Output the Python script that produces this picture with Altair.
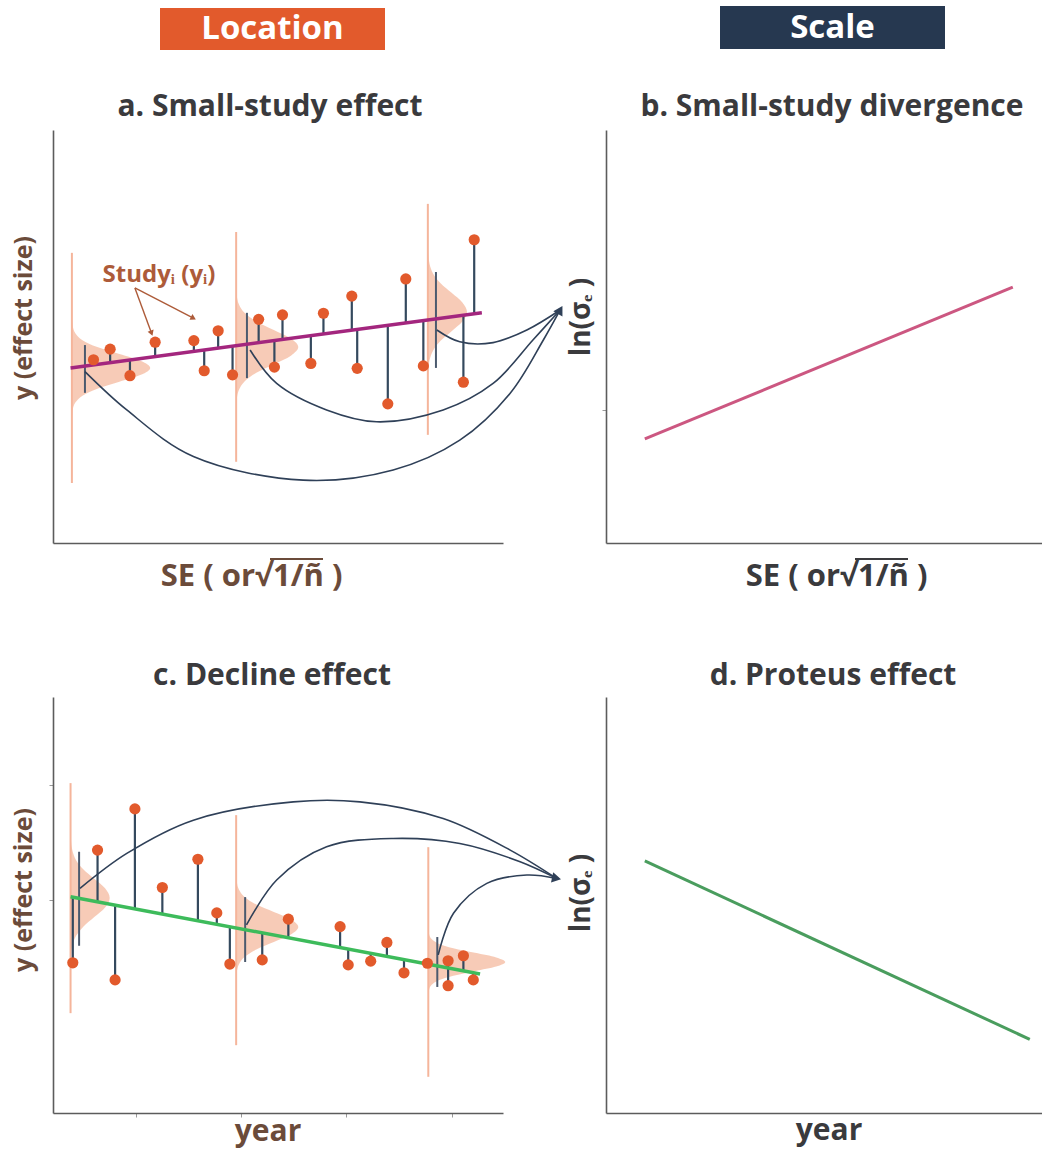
import altair as alt
import pandas as pd

# ---------------- colours / fonts ----------------
ORANGE = "#E25A2C"
NAVY = "#263850"
STEM = "#34495E"
ARC = "#2F4058"
SALMON_FILL = "#F6C2AA"
SALMON_LINE = "#F5B59B"
MAGENTA = "#A3267E"
PINK = "#CC5781"
GREEN_C = "#3DBB5B"
GREEN_D = "#4A9D5E"
BROWN = "#6B4B3A"
DARK = "#3A3A3D"
AXIS = "#5C5C5C"
LABEL_BROWN = "#AD5B39"
FONT = "Open Sans"

# ---------------- shape of the drawn bell curves ----------------
BELL_Z = [-3.5, -3, -2.5, -2, -1.5, -1, -0.5, 0, 0.5, 1, 1.5, 2, 2.5, 3, 3.5]
BELL_H = [0.002, 0.011, 0.044, 0.135, 0.325, 0.607, 0.882, 1.0, 0.882, 0.607, 0.325, 0.135, 0.044, 0.011, 0.002]

# ---------------- panel a: small-study effect ----------------
A_SE = [0.90, 1.27, 1.71, 2.27, 3.13, 3.36, 3.67, 3.99, 4.57, 4.92, 5.10, 5.73, 6.01, 6.64, 6.76, 7.44, 7.84, 8.23, 9.12, 9.36]
A_Y = [4.49, 4.75, 4.10, 4.92, 4.96, 4.22, 5.20, 4.12, 5.48, 4.31, 5.59, 4.40, 5.63, 6.05, 4.28, 3.41, 6.47, 4.34, 3.94, 7.43]
A_FIT = [4.37, 4.42, 4.49, 4.57, 4.70, 4.73, 4.78, 4.82, 4.91, 4.96, 4.99, 5.08, 5.12, 5.21, 5.23, 5.33, 5.39, 5.45, 5.58, 5.61]
A_LINE_SE = [0.39, 9.53]
A_LINE_Y = [4.29, 5.64]
A_DENS_BASE = [0.42, 4.07, 8.33]
A_DENS_CENTER = [4.29, 4.80, 5.66]
A_DENS_PEAK = [1.74, 1.38, 0.87]
A_DENS_SD = [0.34, 0.42, 0.47]
A_DENS_LO = [1.47, 1.99, 2.65]
A_DENS_HI = [7.11, 7.62, 8.31]
A_CI_X = [0.71, 4.31, 8.51]
A_CI_LO = [3.68, 4.04, 4.29]
A_CI_HI = [4.85, 5.64, 6.64]
A_ARC1_X = [0.71, 1.64, 3.12, 5.56, 7.56, 9.04, 10.16, 10.90, 11.27]
A_ARC1_Y = [4.20, 3.26, 2.12, 1.54, 1.79, 2.52, 3.67, 4.98, 5.71]
A_ARC2_X = [4.38, 4.97, 6.08, 7.19, 8.67, 9.78, 10.67, 11.27]
A_ARC2_Y = [4.73, 3.91, 3.26, 2.97, 3.26, 3.91, 4.98, 5.71]
A_ARC3_X = [8.53, 9.04, 9.78, 10.53, 11.27]
A_ARC3_Y = [5.22, 4.93, 4.91, 5.22, 5.71]
A_NOTE_FROM = [1.82, 6.25]
A_NOTE_TO_X = [2.19, 3.12]
A_NOTE_TO_Y = [5.14, 5.51]

# ---------------- panel b: small-study divergence ----------------
B_SE = [0.89, 9.33]
B_LNSIGMA = [2.55, 6.27]
B_YTICKS = [3.26]

# ---------------- panel c: decline effect ----------------
C_YEAR = [0.44, 0.99, 1.38, 1.82, 2.43, 3.22, 3.64, 3.93, 4.65, 5.23, 6.38, 6.56, 7.06, 7.42, 7.80, 8.32, 8.78, 8.78, 9.12, 9.34]
C_Y = [3.61, 6.32, 3.20, 7.31, 5.42, 6.10, 4.81, 3.58, 3.68, 4.66, 4.48, 3.56, 3.65, 4.10, 3.37, 3.60, 3.66, 3.06, 3.78, 3.20]
C_FIT = [5.19, 5.08, 5.00, 4.91, 4.78, 4.62, 4.54, 4.48, 4.33, 4.21, 3.98, 3.94, 3.84, 3.76, 3.69, 3.58, 3.49, 3.49, 3.42, 3.37]
C_LINE_YEAR = [0.39, 9.49]
C_LINE_Y = [5.20, 3.34]
C_DENS_BASE = [0.39, 4.07, 8.34]
C_DENS_CENTER = [5.17, 4.47, 3.63]
C_DENS_PEAK = [0.87, 1.38, 1.71]
C_DENS_SD = [0.46, 0.36, 0.22]
C_DENS_LO = [2.40, 1.63, 0.87]
C_DENS_HI = [7.93, 7.16, 6.39]
C_CI_X = [0.58, 4.27, 8.54]
C_CI_LO = [4.02, 3.63, 3.03]
C_CI_HI = [6.28, 5.19, 4.23]
C_ARC1_X = [0.60, 1.64, 3.12, 5.34, 6.82, 8.67, 10.16, 11.19]
C_ARC1_Y = [5.40, 6.24, 7.04, 7.48, 7.48, 7.08, 6.32, 5.64]
C_ARC2_X = [4.30, 4.97, 6.08, 7.56, 9.04, 10.38, 11.19]
C_ARC2_Y = [4.52, 5.60, 6.40, 6.60, 6.48, 6.04, 5.64]
C_ARC3_X = [8.56, 8.90, 9.64, 10.53, 11.19]
C_ARC3_Y = [3.80, 4.80, 5.52, 5.72, 5.64]
C_XTICKS = [1.84, 4.18, 6.51, 8.86]
C_YTICKS = [5.12, 7.88]

# ---------------- panel d: Proteus effect ----------------
D_YEAR = [0.89, 9.72]
D_LNSIGMA = [6.06, 1.77]

ONE = pd.DataFrame({"k": [0]})


def dens_df(base, center, peak, sd):
    rows = []
    for k in range(len(base)):
        for z, h in zip(BELL_Z, BELL_H):
            rows.append({"d": k, "y": center[k] + sd[k] * z, "x0": base[k], "x1": base[k] + peak[k] * h})
    return pd.DataFrame(rows)


def arcs_df(arcs):
    rows = []
    for k, (xs, ys) in enumerate(arcs):
        for i, (x, y) in enumerate(zip(xs, ys)):
            rows.append({"arc": k, "i": i, "x": x, "y": y})
    return pd.DataFrame(rows)


def axes(xdom, ydom, xticks, yticks):
    def ax(ticks):
        kw = dict(title=None, labels=False, grid=False, domainColor=AXIS, domainWidth=1.6)
        if ticks:
            kw.update(values=ticks, ticks=True, tickSize=4, tickColor="#9a9a9a", tickWidth=1)
        else:
            kw.update(ticks=False)
        return alt.Axis(**kw)

    def X(f):
        return alt.X(f, type="quantitative", scale=alt.Scale(domain=xdom, nice=False, zero=False), axis=ax(xticks))

    def Y(f):
        return alt.Y(f, type="quantitative", scale=alt.Scale(domain=ydom, nice=False, zero=False), axis=ax(yticks))

    return X, Y


def text(t, x, y, size, color, angle=0, align="center", baseline="middle", weight="bold"):
    return alt.Chart(ONE).mark_text(
        text=t, font=FONT, fontSize=size, fontWeight=weight, color=color,
        angle=angle, align=align, baseline=baseline,
    ).encode(x=alt.value(x), y=alt.value(y))


def box(x0, x1, y0, y1, color, opacity=1.0):
    return alt.Chart(ONE).mark_rect(color=color, opacity=opacity).encode(
        x=alt.value(x0), x2=alt.value(x1), y=alt.value(y0), y2=alt.value(y1))


def hline(x0, x1, y, color):
    return alt.Chart(ONE).mark_rule(color=color, strokeWidth=2).encode(
        x=alt.value(x0), x2=alt.value(x1), y=alt.value(y))


def se_label(split_x, base_y, color, size=31):
    # "SE ( or√" + overlined "1/ñ" + " )"
    return [
        text("SE ( or√", split_x + 1, base_y, size, color, align="right", baseline="alphabetic"),
        text("1/ñ )", split_x + 2, base_y, size, color, align="left", baseline="alphabetic"),
        hline(split_x - 1, split_x + 52, base_y - 27, color),
    ]


def location_panel(X, Y, xs, ys, fit, line_x, line_y, dens, lo, hi, base, ci_x, ci_lo, ci_hi,
                   arcs, head_angle, line_color):
    pts = pd.DataFrame({"x": xs, "y": ys, "fit": fit})
    ln = pd.DataFrame({"x": line_x, "y": line_y})
    bl = pd.DataFrame({"x": base, "lo": lo, "hi": hi})
    ci = pd.DataFrame({"x": ci_x, "lo": ci_lo, "hi": ci_hi})
    ad = arcs_df(arcs)
    end = ad[ad["i"] == ad.groupby("arc")["i"].transform("max")].iloc[[0]]
    layers = [
        alt.Chart(dens).mark_area(orient="horizontal", interpolate="monotone", color=SALMON_FILL,
                                  opacity=0.85, clip=False).encode(
            y=Y("y"), x=X("x1"), x2="x0", detail="d:N"),
        alt.Chart(bl).mark_rule(color=SALMON_LINE, strokeWidth=2, clip=False).encode(
            x=X("x"), y=Y("lo"), y2="hi"),
        alt.Chart(ci).mark_rule(color="#4B5A6E", strokeWidth=2, clip=False).encode(
            x=X("x"), y=Y("lo"), y2="hi"),
        alt.Chart(pts).mark_rule(color=STEM, strokeWidth=2.2, clip=False).encode(
            x=X("x"), y=Y("y"), y2="fit"),
        alt.Chart(ln).mark_line(color=line_color, strokeWidth=3.5, clip=False).encode(
            x=X("x"), y=Y("y")),
        alt.Chart(ad).mark_line(color=ARC, strokeWidth=1.6, interpolate="catmull-rom", clip=False).encode(
            x=X("x"), y=Y("y"), detail="arc:N", order="i:Q"),
        alt.Chart(end).mark_point(shape="triangle-right", filled=True, size=110, color=ARC,
                                  opacity=1, angle=head_angle, clip=False).encode(x=X("x"), y=Y("y")),
        alt.Chart(pts).mark_circle(color=ORANGE, size=125, opacity=1, clip=False).encode(
            x=X("x"), y=Y("y")),
    ]
    return layers


# ---------------- panel a ----------------
XA, YA = axes([0, 10], [0, 10.12], None, None)
pa_layers = [box(-53, 989, -130, 1021, "white", 0.0)]
pa_layers += location_panel(
    XA, YA, A_SE, A_Y, A_FIT, A_LINE_SE, A_LINE_Y,
    dens_df(A_DENS_BASE, A_DENS_CENTER, A_DENS_PEAK, A_DENS_SD),
    A_DENS_LO, A_DENS_HI, A_DENS_BASE, A_CI_X, A_CI_LO, A_CI_HI,
    [(A_ARC1_X, A_ARC1_Y), (A_ARC2_X, A_ARC2_Y), (A_ARC3_X, A_ARC3_Y)], 300, MAGENTA)
note = pd.DataFrame({"x0": [A_NOTE_FROM[0]] * 2, "y0": [A_NOTE_FROM[1]] * 2,
                     "x1": A_NOTE_TO_X, "y1": A_NOTE_TO_Y})
pa_layers += [
    alt.Chart(note).mark_rule(color=LABEL_BROWN, strokeWidth=1.4).encode(
        x=XA("x0"), y=YA("y0"), x2="x1", y2="y1"),
    alt.Chart(note.iloc[[0]]).mark_point(shape="triangle-right", filled=True, size=40, color=LABEL_BROWN,
                                         opacity=1, angle=70).encode(x=XA("x1"), y=YA("y1")),
    alt.Chart(note.iloc[[1]]).mark_point(shape="triangle-right", filled=True, size=40, color=LABEL_BROWN,
                                         opacity=1, angle=28).encode(x=XA("x1"), y=YA("y1")),
    text("Studyᵢ (yᵢ)", 106, 145, 24, LABEL_BROWN),
    box(107, 332, -122, -80, ORANGE),
    text("Location", 219.5, -101, 33, "white"),
    text("a. Small-study effect", 217, -23, 30, DARK),
    text("y (effect size)", -29, 188, 25, BROWN, angle=270),
]
pa_layers += se_label(218, 456, BROWN)
pa = alt.layer(*pa_layers).properties(width=450, height=413)

# ---------------- panel b ----------------
XB, YB = axes([0, 10], [0, 10.12], None, B_YTICKS)
bl = pd.DataFrame({"x": B_SE, "y": B_LNSIGMA})
pb_layers = [
    alt.Chart(bl).mark_line(color=PINK, strokeWidth=3).encode(x=XB("x"), y=YB("y")),
    box(114, 339, -124, -81, NAVY),
    text("Scale", 226.5, -102, 33, "white"),
    text("b. Small-study divergence", 226, -23, 30, DARK),
    text("ln(σₑ )", -24, 187, 28, DARK, angle=270),
]
pb_layers += se_label(250, 456, DARK)
pb = alt.layer(*pb_layers).properties(width=436, height=413)

# ---------------- panel c ----------------
XC, YC = axes([0, 10], [0, 10], C_XTICKS, C_YTICKS)
pc_layers = location_panel(
    XC, YC, C_YEAR, C_Y, C_FIT, C_LINE_YEAR, C_LINE_Y,
    dens_df(C_DENS_BASE, C_DENS_CENTER, C_DENS_PEAK, C_DENS_SD),
    C_DENS_LO, C_DENS_HI, C_DENS_BASE, C_CI_X, C_CI_LO, C_CI_HI,
    [(C_ARC1_X, C_ARC1_Y), (C_ARC2_X, C_ARC2_Y), (C_ARC3_X, C_ARC3_Y)], 12, GREEN_C)
pc_layers += [
    text("c. Decline effect", 219, -21, 30, DARK),
    text("y (effect size)", -29, 193, 25, BROWN, angle=270),
    text("year", 215, 444, 30, BROWN, baseline="alphabetic"),
]
pc = alt.layer(*pc_layers).properties(width=450, height=416)

# ---------------- panel d ----------------
XD, YD = axes([0, 10], [0, 10], None, None)
dl = pd.DataFrame({"x": D_YEAR, "y": D_LNSIGMA})
pdd = alt.layer(
    alt.Chart(dl).mark_line(color=GREEN_D, strokeWidth=3).encode(x=XD("x"), y=YD("y")),
    text("d. Proteus effect", 227, -21, 30, DARK),
    text("ln(σₑ )", -24, 196, 28, DARK, angle=270),
    text("year", 223, 443, 30, DARK, baseline="alphabetic"),
).properties(width=436, height=416)

chart = alt.concat(
    pa, pb, pc, pdd, columns=2, spacing={"row": 154, "column": 103}, bounds="flush"
).properties(
    padding=0,
    background="white",
).configure_view(strokeWidth=0)

chart.save("out.html", embed_options={"renderer": "svg", "actions": False})
